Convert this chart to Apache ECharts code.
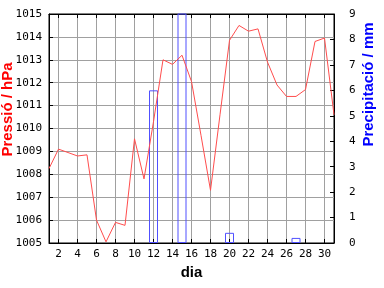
<!DOCTYPE html>
<html><head><meta charset="utf-8">
<script src="https://cdn.jsdelivr.net/npm/echarts@6/dist/echarts.min.js"></script>
<style>html,body{margin:0;padding:0;background:#fff}#c{width:384px;height:288px}</style>
</head><body><div id="c"></div>
<script>
const days = [1,2,3,4,5,6,7,8,9,10,11,12,13,14,15,16,17,18,19,20,21,22,23,24,25,26,27,28,29,30,31];
const pressure = [1008.25,1009.1,1008.95,1008.8,1008.85,1006.0,1005.05,1005.9,1005.77,1009.55,1007.8,1010.3,1013.0,1012.8,1013.2,1012.05,1009.7,1007.3,1010.6,1013.85,1014.5,1014.25,1014.35,1012.9,1011.9,1011.4,1011.4,1011.7,1013.8,1013.95,1010.6];
const rainDays = [12, 15, 20, 27];
const rain = [6.0, 15.0, 0.4, 0.2];
const xTicks = [2,4,6,8,10,12,14,16,18,20,22,24,26,28,30];
const xName = 'dia';
const yLeftName = 'Pressió / hPa';
const yRightName = 'Precipitació / mm';

const chart = echarts.init(document.getElementById('c'), null, {renderer: 'canvas'});
const mono = 'DejaVu Sans Mono';
const tickStyle = {show: true, inside: true, length: 4, lineStyle: {color: '#000', width: 1}};
const plain = v => String(v);
chart.setOption({
  animation: false,
  backgroundColor: '#fff',
  grid: {left: 49, top: 14, right: 50, bottom: 45, show: true, borderColor: '#000', borderWidth: 1, backgroundColor: 'transparent'},
  xAxis: [{
    type: 'value', min: 1, max: 31, position: 'bottom',
    name: xName, nameLocation: 'middle', nameGap: 21,
    nameTextStyle: {fontFamily: 'Liberation Sans', fontWeight: 'bold', fontSize: 15, color: '#000'},
    axisLine: {show: true, onZero: false, lineStyle: {color: '#000', width: 1}},
    axisTick: Object.assign({customValues: xTicks}, tickStyle),
    axisLabel: {customValues: xTicks, formatter: plain, fontFamily: mono, fontSize: 11, color: '#000', margin: 6},
    splitLine: {show: true, lineStyle: {color: '#a0a0a0', width: 1}}
  }, {
    type: 'value', min: 1, max: 31, position: 'top',
    axisLine: {show: true, onZero: false, lineStyle: {color: '#000', width: 1}},
    axisTick: Object.assign({customValues: xTicks}, tickStyle),
    axisLabel: {show: false},
    splitLine: {show: false}
  }],
  yAxis: [{
    type: 'value', min: 1005, max: 1015, interval: 1, position: 'left',
    axisLine: {show: true, onZero: false, lineStyle: {color: '#000', width: 1}},
    axisTick: tickStyle,
    axisLabel: {formatter: plain, fontFamily: mono, fontSize: 11, color: '#000', margin: 7},
    splitLine: {show: true, lineStyle: {color: '#a0a0a0', width: 1}}
  }, {
    type: 'value', min: 0, max: 9, interval: 1, position: 'right',
    axisLine: {show: true, onZero: false, lineStyle: {color: '#000', width: 1}},
    axisTick: tickStyle,
    axisLabel: {formatter: plain, fontFamily: mono, fontSize: 11, color: '#000', margin: 15},
    splitLine: {show: false}
  }],
  graphic: [{
    type: 'text', x: 8, y: 109.5, rotation: Math.PI / 2,
    style: {text: yLeftName, fill: '#ff0000', font: 'bold 15px "Liberation Sans"', align: 'center', verticalAlign: 'middle'}
  }, {
    type: 'text', x: 369, y: 84.5, rotation: Math.PI / 2,
    style: {text: yRightName, fill: '#0000ff', font: 'bold 15px "Liberation Sans"', align: 'center', verticalAlign: 'middle'}
  }],
  series: [{
    type: 'bar', xAxisIndex: 0, yAxisIndex: 1, barWidth: 9, clip: true,
    data: rainDays.map((d, i) => [d, rain[i]]),
    itemStyle: {color: 'none', borderColor: '#5050ff', borderWidth: 1},
    z: 3
  }, {
    type: 'line', xAxisIndex: 0, yAxisIndex: 0, showSymbol: false, clip: true,
    data: days.map((d, i) => [d, pressure[i]]),
    lineStyle: {color: '#ff4d4d', width: 1},
    z: 4
  }]
});
</script>
</body></html>
